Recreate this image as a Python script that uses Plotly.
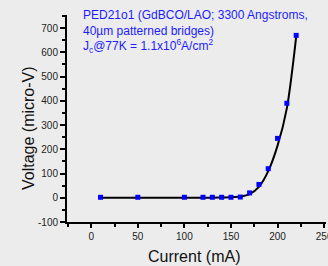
import plotly.graph_objects as go

current_mA = [10, 50, 100, 120, 130, 140, 150, 160, 170, 180, 190, 200, 210, 220]
voltage_uV = [2, 2, 2, 2, 2, 2, 2, 3, 20, 55, 120, 245, 390, 670]

fit_x = [10, 50, 100, 120, 130, 140, 150, 160, 170, 180, 190, 200, 210, 220]
fit_y = [0, 0, 0, 0, 0, 1, 2, 5, 15, 45, 110, 215, 370, 665]

x_ticks = [0, 50, 100, 150, 200, 250]
y_ticks = [-100, 0, 100, 200, 300, 400, 500, 600, 700]

bg = "#ececec"
fnt = "Arial, Liberation Sans, sans-serif"
fig = go.Figure()
fig.add_trace(go.Scatter(x=fit_x, y=fit_y, mode="lines",
                         line=dict(color="black", width=2, shape="spline", smoothing=0.8),
                         hoverinfo="skip", showlegend=False, cliponaxis=False))
fig.add_trace(go.Scatter(x=current_mA, y=voltage_uV, mode="markers",
                         marker=dict(color="#0000ff", size=5, symbol="square"),
                         showlegend=False))

fig.add_annotation(
    text="PED21o1 (GdBCO/LAO; 3300 Angstroms,<br>40µm patterned bridges)<br>J<sub>c</sub>@77K = 1.1x10<sup>6</sup>A/cm<sup>2</sup>",
    xref="x", yref="paper", x=-11.5, y=1.045, xanchor="left", yanchor="top",
    align="left", showarrow=False,
    font=dict(family=fnt, size=12, color="#1c1cff"))

# axis titles
fig.add_annotation(text="Voltage (micro-V)", xref="paper", yref="paper",
                   x=-0.1506, y=0.454, xanchor="center", yanchor="middle",
                   textangle=-90, showarrow=False,
                   font=dict(family=fnt, size=16, color="#111"))
fig.add_annotation(text="Current (mA)", xref="paper", yref="paper",
                   x=0.49, y=-0.169, xanchor="center", yanchor="middle",
                   showarrow=False,
                   font=dict(family=fnt, size=16, color="#111"))

axis_font = dict(family=fnt, size=10, color="#222")
fig.update_layout(
    width=328, height=266,
    margin=dict(l=67, r=2, t=15, b=44, autoexpand=False),
    paper_bgcolor=bg, plot_bgcolor=bg,
    xaxis=dict(range=[-26, 252], tickvals=x_ticks, ticktext=[str(v) for v in x_ticks],
               automargin=False, ticklabeloverflow="allow",
               showgrid=False, zeroline=False, showline=True, linecolor="black", linewidth=2,
               ticks="outside", ticklen=4, tickwidth=1.5, tickcolor="black", tickfont=axis_font,
               minor=dict(dtick=25, tick0=0, ticks="outside", ticklen=3, tickcolor="black", tickwidth=1.5, showgrid=False)),
    yaxis=dict(range=[-100, 754], tickvals=y_ticks, ticktext=[str(v) for v in y_ticks],
               automargin=False,
               showgrid=False, zeroline=False, showline=True, linecolor="black", linewidth=2,
               ticks="outside", ticklen=5, tickwidth=1.5, tickcolor="black", tickfont=axis_font,
               minor=dict(dtick=50, tick0=0, ticks="outside", ticklen=3, tickcolor="black", tickwidth=1.5, showgrid=False)),
)
fig.write_html("out.html", config={"displayModeBar": False},
               post_script="document.body.style.margin='0';document.body.style.background='#ececec';")
